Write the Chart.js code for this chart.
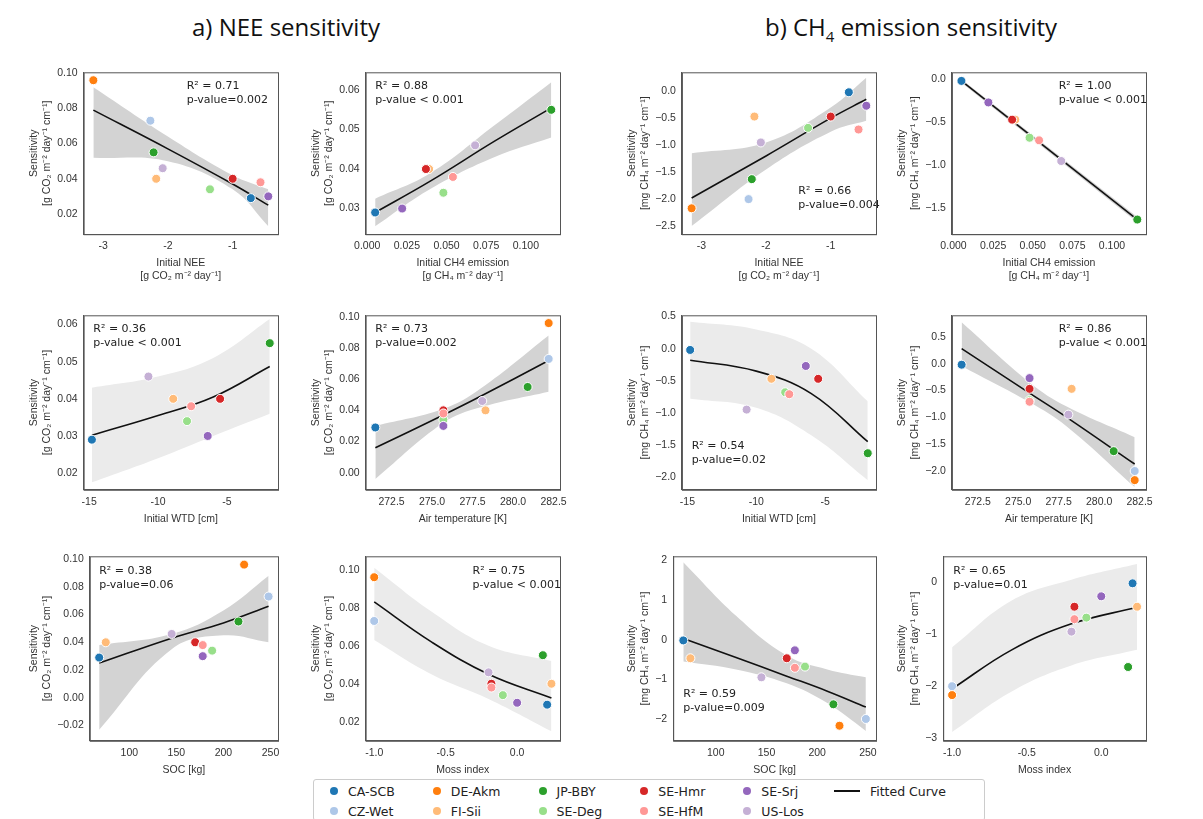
<!DOCTYPE html>
<html>
<head>
<meta charset="utf-8">
<script src="https://cdn.jsdelivr.net/npm/chart.js@4.4.0/dist/chart.umd.min.js"></script>
<style>
  body{margin:0;background:#fff;font-family:"DejaVu Sans",sans-serif;}
  #wrap{position:relative;width:1203px;height:819px;overflow:hidden;}
  canvas{position:absolute;}
  .title{position:absolute;top:10px;font-size:24px;color:#111;font-family:"Open Sans","DejaVu Sans",sans-serif;}
  #legend{position:absolute;left:313px;top:779px;width:672px;height:42px;border:1px solid #ccc;border-radius:3px;
    display:grid;grid-template-columns:repeat(6,auto);grid-template-rows:20px 20px;grid-auto-flow:column;padding:1px 8px;box-sizing:border-box;font-size:12.5px;color:#222;}
  .li{display:flex;align-items:center;gap:10px;white-space:nowrap;}
  .dot{width:8px;height:8px;border-radius:50%;margin-left:8px;}
  .ln{width:26px;height:2px;background:#111;}
</style>
</head>
<body>
<div id="wrap">
  <div class="title" style="left:192px">a) NEE sensitivity</div>
  <div class="title" style="left:765px">b) CH<sub style="font-size:15px">4</sub> emission sensitivity</div>
  <div id="legend"></div>
</div>
<script>
const sites = ['CA-SCB','CZ-Wet','DE-Akm','FI-Sii','JP-BBY','SE-Deg','SE-Hmr','SE-HfM','SE-Srj','US-Los'];
const siteColors = ['#1f77b4','#aec7e8','#ff7f0e','#ffbb78','#2ca02c','#98df8a','#d62728','#ff9896','#9467bd','#c5b0d5'];

// site predictor values (null = not available)
const initNEE = [-0.72,-2.27,-3.15,-2.18,-2.22,-1.35,-1.0,-0.57,-0.45,-2.08];
const initCH4 = [0.005,null,null,0.039,0.116,0.048,0.037,0.054,0.022,0.068];
const initWTD = [-14.8,null,null,-8.9,-1.9,-7.9,-5.5,-7.6,-6.4,-10.7];
const airTemp = [271.5,282.2,282.2,278.3,280.9,275.7,275.7,275.7,275.7,278.1];
const soc     = [68,248,222,75,216,188,170,178,178,145];
const moss    = [0.21,-1.0,-1.0,0.24,0.18,-0.1,-0.18,-0.18,0.0,-0.2];

// sensitivities
const sensNEE = [0.029,0.073,0.096,0.040,0.055,0.034,0.040,0.038,0.030,0.046];
const sensCH4 = [-0.02,-2.0,-2.17,-0.47,-1.63,-0.68,-0.47,-0.71,-0.27,-0.95];

// fitted curves and confidence bands
const fits = [
  {x:[-3.15,-2,-1,-0.45], fit:[0.079,0.057,0.037,0.025], lo:[0.052,0.050,0.034,0.013], hi:[0.092,0.064,0.042,0.034]},
  {x:[0.005,0.04,0.08,0.116], fit:[0.029,0.037,0.047,0.0555], lo:[0.0255,0.035,0.043,0.048], hi:[0.0325,0.039,0.051,0.062]},
  {x:[-3.15,-2,-1,-0.45], fit:[-1.98,-1.2,-0.5,-0.15], lo:[-2.5,-1.45,-0.75,-0.55], hi:[-1.15,-0.95,-0.3,0.25]},
  {x:[0.005,0.116], fit:[-0.02,-1.63], lo:[-0.04,-1.66], hi:[0.0,-1.6]},
  {x:[-14.8,-10,-6,-1.9], fit:[0.0302,0.0355,0.0405,0.0487], lo:[0.0175,0.024,0.030,0.036], hi:[0.043,0.046,0.051,0.0615]},
  {x:[271.5,275.7,278,282.2], fit:[0.016,0.037,0.049,0.072], lo:[-0.004,0.032,0.042,0.052], hi:[0.030,0.041,0.054,0.088]},
  {x:[-14.8,-10,-6,-1.9], fit:[-0.18,-0.35,-0.7,-1.45], lo:[-0.78,-0.92,-1.35,-2.05], hi:[0.42,0.3,0.0,-0.82]},
  {x:[271.5,275.7,278,282.2], fit:[0.28,-0.55,-1.0,-1.87], lo:[-0.05,-0.72,-1.17,-2.3], hi:[0.77,-0.35,-0.8,-1.37]},
  {x:[68,145,200,248], fit:[0.025,0.043,0.054,0.066], lo:[-0.023,0.035,0.045,0.040], hi:[0.038,0.046,0.063,0.088]},
  {x:[-1,-0.6,-0.2,0.24], fit:[0.083,0.062,0.045,0.0325], lo:[0.063,0.045,0.032,0.015], hi:[0.101,0.078,0.060,0.052]},
  {x:[68,120,170,210,248], fit:[0.03,-0.45,-0.92,-1.3,-1.7], lo:[-0.55,-0.75,-1.1,-1.6,-2.3], hi:[1.95,0.6,-0.4,-0.75,-0.95]},
  {x:[-1,-0.6,-0.2,0.24], fit:[-2.05,-1.3,-0.8,-0.48], lo:[-2.88,-2.1,-1.6,-1.3], hi:[-1.25,-0.35,0.05,0.35]}
];
const stats = [
  ['R² = 0.71','p-value=0.002'],['R² = 0.88','p-value < 0.001'],['R² = 0.66','p-value=0.004'],['R² = 1.00','p-value < 0.001'],
  ['R² = 0.36','p-value < 0.001'],['R² = 0.73','p-value=0.002'],['R² = 0.54','p-value=0.02'],['R² = 0.86','p-value < 0.001'],
  ['R² = 0.38','p-value=0.06'],['R² = 0.75','p-value < 0.001'],['R² = 0.59','p-value=0.009'],['R² = 0.65','p-value=0.01']
];
const xTicks = {
  nee:[-3,-2,-1], ch4:[0,0.025,0.05,0.075,0.1], wtd:[-15,-10,-5], temp:[272.5,275,277.5,280,282.5], soc:[100,150,200,250], moss:[-1,-0.5,0]
};
const yTicksList = [
  [0.02,0.04,0.06,0.08,0.10],[0.03,0.04,0.05,0.06],[-2.5,-2,-1.5,-1,-0.5,0],[-1.5,-1,-0.5,0],
  [0.02,0.03,0.04,0.05,0.06],[0,0.02,0.04,0.06,0.08,0.10],[-2,-1.5,-1,-0.5,0,0.5],[-2,-1.5,-1,-0.5,0,0.5],
  [-0.02,0,0.02,0.04,0.06,0.08,0.10],[0.02,0.04,0.06,0.08,0.10],[-2,-1,0,1,2],[-3,-2,-1,0]
];

const xTitle = {
  nee:['Initial NEE','[g CO₂ m⁻² day⁻¹]'], ch4:['Initial CH4 emission','[g CH₄ m⁻² day⁻¹]'],
  wtd:'Initial WTD [cm]', temp:'Air temperature [K]', soc:'SOC [kg]', moss:'Moss index'
};
const yTitleNEE = ['Sensitivity','[g CO₂ m⁻² day⁻¹ cm⁻¹]'];
const yTitleCH4 = ['Sensitivity','[mg CH₄ m⁻² day⁻¹ cm⁻¹]'];
const xVals = {nee:initNEE, ch4:initCH4, wtd:initWTD, temp:airTemp, soc:soc, moss:moss};

// layout: plot box left/top, canvas height, ranges, style
const panels = [
  {xk:'nee', y:'NEE', L:90, T:72,  H:222, xr:[-3.3,-0.3], yr:[0.0085,0.1005], xd:0, yd:2, sp:[0.53,0.05], band:'#d3d3d3'},
  {xk:'ch4', y:'NEE', L:372,T:72,  H:222, xr:[-0.001,0.1215], yr:[0.0235,0.0645], xd:3, yd:2, sp:[0.05,0.05], band:'#d3d3d3'},
  {xk:'nee', y:'CH4', L:688,T:72,  H:222, xr:[-3.3,-0.3], yr:[-2.65,0.35], xd:0, yd:1, sp:[0.6,0.7], band:'#d3d3d3'},
  {xk:'ch4', y:'CH4', L:958,T:72,  H:222, xr:[-0.001,0.1215], yr:[-1.8,0.08], xd:3, yd:1, sp:[0.55,0.05], band:'#d3d3d3'},
  {xk:'wtd', y:'NEE', L:90, T:315, H:222, xr:[-15.4,-1.3], yr:[0.0155,0.0625], xd:0, yd:2, sp:[0.05,0.05], band:'#ebebeb'},
  {xk:'temp',y:'NEE', L:372,T:315, H:222, xr:[270.9,282.9], yr:[-0.011,0.101], xd:1, yd:2, sp:[0.05,0.05], band:'#d3d3d3'},
  {xk:'wtd', y:'CH4', L:688,T:315, H:222, xr:[-15.4,-1.3], yr:[-2.2,0.52], xd:0, yd:1, sp:[0.05,0.72], band:'#ebebeb'},
  {xk:'temp',y:'CH4', L:958,T:315, H:222, xr:[270.9,282.9], yr:[-2.35,0.9], xd:1, yd:1, sp:[0.55,0.05], band:'#d3d3d3'},
  {xk:'soc', y:'NEE', L:90, T:556, H:232, xr:[58,258], yr:[-0.031,0.102], xd:0, yd:2, sp:[0.05,0.05], band:'#d3d3d3'},
  {xk:'moss',y:'NEE', L:372,T:556, H:232, xr:[-1.06,0.3], yr:[0.01,0.107], xd:1, yd:2, sp:[0.55,0.05], band:'#ebebeb'},
  {xk:'soc', y:'CH4', L:688,T:556, H:232, xr:[58,258], yr:[-2.55,2.1], xd:0, yd:0, sp:[0.05,0.72], band:'#d3d3d3'},
  {xk:'moss',y:'CH4', L:958,T:556, H:232, xr:[-1.06,0.3], yr:[-3.05,0.5], xd:1, yd:0, sp:[0.05,0.05], band:'#ebebeb'}
];

const statsPlugin = {
  id:'stats',
  afterDatasetsDraw(chart, args, opts){
    const {ctx, chartArea:a} = chart;
    ctx.save();
    ctx.font = '11px "DejaVu Sans"';
    ctx.fillStyle = '#222';
    ctx.textBaseline = 'top';
    const x = a.left + opts.pos[0]*(a.right-a.left);
    const y = a.top + opts.pos[1]*(a.bottom-a.top);
    ctx.fillText(opts.lines[0], x, y);
    ctx.fillText(opts.lines[1], x, y+14);
    ctx.restore();
  }
};

const wrap = document.getElementById('wrap');
panels.forEach((p, i) => {
  const cv = document.createElement('canvas');
  cv.width = 266; cv.height = p.H;
  cv.style.left = (p.L - 66) + 'px';
  cv.style.top = (p.T - 8) + 'px';
  wrap.appendChild(cv);
  const f = fits[i];
  const xs = xVals[p.xk];
  const ys = p.y === 'NEE' ? sensNEE : sensCH4;
  const pts = [], cols = [];
  xs.forEach((v, k) => { if (v !== null) { pts.push({x:v, y:ys[k]}); cols.push(siteColors[k]); } });
  const line = arr => f.x.map((v, k) => ({x:v, y:arr[k]}));
  const tension = f.x.length > 2 ? 0.4 : 0;
  new Chart(cv, {
    type:'scatter',
    data:{datasets:[
      {type:'line', data:line(f.lo), borderWidth:0, pointRadius:0, tension, fill:false, order:3},
      {type:'line', data:line(f.hi), borderWidth:0, pointRadius:0, tension, fill:'-1', backgroundColor:p.band, order:3},
      {type:'line', data:line(f.fit), borderColor:'#111', borderWidth:1.6, pointRadius:0, tension, fill:false, order:2},
      {data:pts, pointBackgroundColor:cols, pointBorderColor:'#fff', pointBorderWidth:1, pointRadius:4.5, order:1}
    ]},
    options:{
      responsive:false, animation:false, devicePixelRatio:1,
      layout:{padding:{top:8,right:12,left:0,bottom:0}},
      plugins:{legend:{display:false}, tooltip:{enabled:false}, stats:{pos:p.sp, lines:stats[i]}},
      scales:{
        x:{min:p.xr[0], max:p.xr[1], grid:{display:false, drawTicks:true, tickLength:4, tickColor:'#333'},
           border:{color:'#555', width:1},
           afterBuildTicks: ax => { ax.ticks = xTicks[p.xk].map(v => ({value:v})); },
           ticks:{color:'#333', font:{size:10.5}, padding:2, maxRotation:0, callback: v => (+v).toFixed(p.xd)},
           title:{display:true, text:xTitle[p.xk], color:'#333', font:{size:10.5}, padding:{top:2}}},
        y:{min:p.yr[0], max:p.yr[1], grid:{display:false, tickLength:4, tickColor:'#333'},
           border:{color:'#555', width:1},
           afterBuildTicks: ax => { ax.ticks = yTicksList[i].map(v => ({value:v})); },
           ticks:{color:'#333', font:{size:10.5}, padding:2, callback: v => (+v).toFixed(p.yd).replace('-','−')},
           title:{display:true, text:p.y === 'NEE' ? yTitleNEE : yTitleCH4, color:'#333', font:{size:10.5}, padding:{bottom:2}}}
      }
    },
    plugins:[statsPlugin, {
      id:'frame',
      afterDraw(chart){
        const {ctx, chartArea:a} = chart;
        ctx.save(); ctx.strokeStyle = '#555'; ctx.lineWidth = 1;
        ctx.strokeRect(a.left+0.5, a.top+0.5, a.right-a.left, a.bottom-a.top);
        ctx.restore();
      }
    }]
  });
});

// legend
const lg = document.getElementById('legend');
sites.forEach((s, k) => {
  const d = document.createElement('div'); d.className = 'li';
  d.innerHTML = '<span class="dot" style="background:' + siteColors[k] + '"></span>' + s;
  lg.appendChild(d);
});
const fc = document.createElement('div'); fc.className = 'li';
fc.innerHTML = '<span class="ln"></span>Fitted Curve';
lg.appendChild(fc);
</script>
</body>
</html>
